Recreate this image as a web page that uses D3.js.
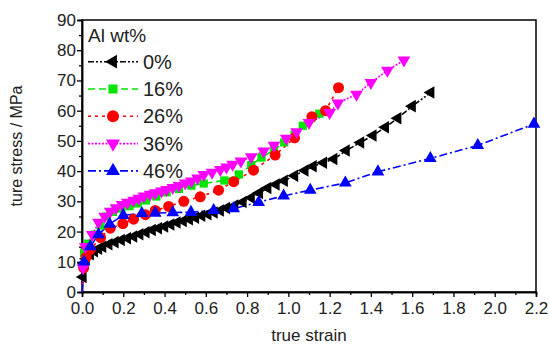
<!DOCTYPE html>
<html>
<head>
<meta charset="utf-8">
<script src="https://cdnjs.cloudflare.com/ajax/libs/d3/7.8.5/d3.min.js"></script>
<style>
  body { margin: 0; background: #fff; }
  svg text { font-family: "Liberation Sans Narrow", "Liberation Sans", Arial, sans-serif; fill: #222; }
</style>
</head>
<body>
<script>
// series data: [true strain, true stress (MPa)]
var al0 = [[0,0],[0.005,5],[0.01,9.5],[0.02,11],[0.04,12.5],[0.06,13.5],[0.08,14.3],[0.1,15],[0.13,15.8],[0.16,16.5],[0.19,17.2],[0.22,17.8],[0.25,18.4],[0.28,19.1],[0.31,19.8],[0.34,20.5],[0.37,21.1],[0.4,21.7],[0.43,22.3],[0.46,23],[0.49,23.5],[0.52,24.1],[0.55,24.6],[0.58,25.2],[0.61,25.7],[0.64,26.3],[0.67,27],[0.7,27.8],[0.74,28.6],[0.78,29.8],[0.82,31.2],[0.86,32.8],[0.9,34.4],[0.94,35.6],[0.98,36.8],[1.03,38.5],[1.08,40.2],[1.12,41.6],[1.17,42.8],[1.22,44],[1.28,46.8],[1.35,49.5],[1.41,51.8],[1.47,54.5],[1.53,57.5],[1.6,61.5],[1.69,66]];
var al16 = [[0,0],[0.01,13],[0.03,16],[0.06,19],[0.09,22],[0.12,25],[0.15,26.5],[0.19,27.6],[0.23,28.4],[0.27,29.3],[0.31,30.3],[0.36,31.6],[0.41,33],[0.47,34.1],[0.53,35.2],[0.59,35.9],[0.69,36.9],[0.76,38.9],[0.82,42],[0.87,44.5],[0.93,47],[0.98,49.5],[1.03,52],[1.07,55],[1.11,57.5],[1.15,59]];
var al26 = [[0,0],[0.008,8],[0.02,11.5],[0.04,14],[0.09,18],[0.137,21.1],[0.198,22.6],[0.25,24.1],[0.307,25.6],[0.355,27],[0.42,28.3],[0.493,30],[0.573,31.5],[0.662,33.7],[0.735,36.5],[0.831,40.3],[0.936,45.3],[1.03,51],[1.114,58],[1.18,60],[1.243,67.6]];
var al36 = [[0,0],[0.005,8],[0.016,15],[0.05,19],[0.08,23],[0.11,25],[0.137,26.7],[0.165,27.8],[0.194,28.9],[0.22,29.6],[0.25,30.3],[0.275,31],[0.3,31.7],[0.33,32.3],[0.355,32.8],[0.385,33.4],[0.41,33.9],[0.44,34.5],[0.47,35.2],[0.5,36],[0.53,36.7],[0.56,37.7],[0.59,38.8],[0.63,39.6],[0.67,40.5],[0.7,41.3],[0.73,42.2],[0.77,43.3],[0.82,44.7],[0.88,46.6],[0.93,48.5],[0.99,50.8],[1.04,53],[1.1,56],[1.2,59.3],[1.24,62.5],[1.33,65.4],[1.4,69.3],[1.48,73.3],[1.56,76.7]];
var al46 = [[0,0],[0.01,10],[0.04,15],[0.08,19],[0.134,22.5],[0.2,25.4],[0.29,26],[0.355,26.1],[0.44,26.3],[0.528,26.4],[0.638,27],[0.735,27.6],[0.856,29.7],[0.977,31.8],[1.106,33.7],[1.276,36.1],[1.434,39.8],[1.688,44.2],[1.918,48.5],[2.19,55.6]];

var seriesNames = ["0%", "16%", "26%", "36%", "46%"];
var seriesData = [al0, al16, al26, al36, al46];
var xTicks = [0, 0.2, 0.4, 0.6, 0.8, 1.0, 1.2, 1.4, 1.6, 1.8, 2.0, 2.2];
var yTicks = [0, 10, 20, 30, 40, 50, 60, 70, 80, 90];

// styles per series
var colors = ["#000000", "#00e600", "#ff0000", "#ff00ff", "#0000ff"];
var dashes = ["6,2,2,2,2,2", "7,4", "3,4", "2,1.5", "8,3,2,3"];
var symbols = [d3.symbolTriangle, d3.symbolSquare, d3.symbolCircle, d3.symbolTriangle, d3.symbolTriangle];
var symSizes = [68, 68, 95, 70, 70];
var symRotate = [-90, 0, 0, 180, 0];

var width = 549, height = 344;
var margin = {top: 20, right: 13, bottom: 52, left: 82};
var w = width - margin.left - margin.right;
var h = height - margin.top - margin.bottom;

var svg = d3.select("body").append("svg")
    .attr("width", width)
    .attr("height", height)
    .append("g")
    .attr("transform", "translate(" + margin.left + "," + margin.top + ")");

var x = d3.scaleLinear().domain([0, 2.2]).range([0, w]);
var y = d3.scaleLinear().domain([0, 90]).range([h, 0]);

// frame
svg.append("rect")
    .attr("width", w).attr("height", h)
    .attr("fill", "none").attr("stroke", "#000").attr("stroke-width", 1.5);

// axes
var xAxis = svg.append("g")
    .attr("transform", "translate(0," + h + ")")
    .call(d3.axisBottom(x).tickValues(xTicks).tickFormat(d3.format(".1f")).tickSize(5));
var xMinor = svg.append("g")
    .attr("transform", "translate(0," + h + ")")
    .call(d3.axisBottom(x).tickValues(d3.range(0.1, 2.2, 0.2)).tickFormat("").tickSize(3));
var yAxis = svg.append("g")
    .call(d3.axisLeft(y).tickValues(yTicks).tickSize(5));
var yMinor = svg.append("g")
    .call(d3.axisLeft(y).tickValues(d3.range(5, 90, 10)).tickFormat("").tickSize(3));

[xAxis, xMinor, yAxis, yMinor].forEach(function (g) {
    g.select(".domain").attr("stroke-width", 1.5);
    g.selectAll(".tick line").attr("stroke-width", 1.3);
});
xAxis.selectAll("text").style("font-size", "17px").attr("dy", "0.85em").attr("fill", "#222");
yAxis.selectAll("text").style("font-size", "17px").attr("x", -6).attr("fill", "#222");

// axis titles
svg.append("text")
    .attr("x", w / 2)
    .attr("y", h + 49)
    .attr("text-anchor", "middle")
    .style("font-family", "'Liberation Sans', Arial, sans-serif")
    .style("font-size", "17px")
    .text("true strain");

svg.append("text")
    .attr("transform", "translate(" + (-60) + "," + (h / 2 - 10) + ") rotate(-90)")
    .attr("text-anchor", "middle")
    .style("font-family", "'Liberation Sans', Arial, sans-serif")
    .style("font-size", "16px")
    .text("ture stress / MPa");

// lines and markers
var line = d3.line()
    .x(function (d) { return x(d[0]); })
    .y(function (d) { return y(d[1]); });

var plot = svg.append("g");
seriesData.forEach(function (data, i) {
    plot.append("path")
        .datum(data)
        .attr("fill", "none")
        .attr("stroke", colors[i])
        .attr("stroke-width", 1.6)
        .attr("stroke-dasharray", dashes[i])
        .attr("d", line);
});
seriesData.forEach(function (data, i) {
    plot.selectAll(".m" + i)
        .data(data.slice(1))
        .enter().append("path")
        .attr("class", "m" + i)
        .attr("d", d3.symbol().type(symbols[i]).size(symSizes[i]))
        .attr("fill", colors[i])
        .attr("transform", function (d) {
            return "translate(" + x(d[0]) + "," + y(d[1]) + ") rotate(" + symRotate[i] + ")";
        });
});

// legend
var legend = svg.append("g").attr("transform", "translate(6,0)");
legend.append("text")
    .attr("x", 0)
    .attr("y", 22)
    .style("font-size", "19px")
    .text("Al wt%");

seriesNames.forEach(function (name, i) {
    var cy = 41.7 + i * 27.3;
    var row = legend.append("g").attr("transform", "translate(0," + cy + ")");
    row.append("line")
        .attr("x1", 0).attr("x2", 50)
        .attr("stroke", colors[i])
        .attr("stroke-width", 1.6)
        .attr("stroke-dasharray", dashes[i]);
    row.append("path")
        .attr("d", d3.symbol().type(symbols[i]).size(symSizes[i] * 1.2))
        .attr("fill", colors[i])
        .attr("transform", "translate(25,0) rotate(" + symRotate[i] + ")");
    row.append("text")
        .attr("x", 55)
        .attr("y", 7)
        .style("font-size", "20px")
        .text(name);
});
</script>
</body>
</html>
